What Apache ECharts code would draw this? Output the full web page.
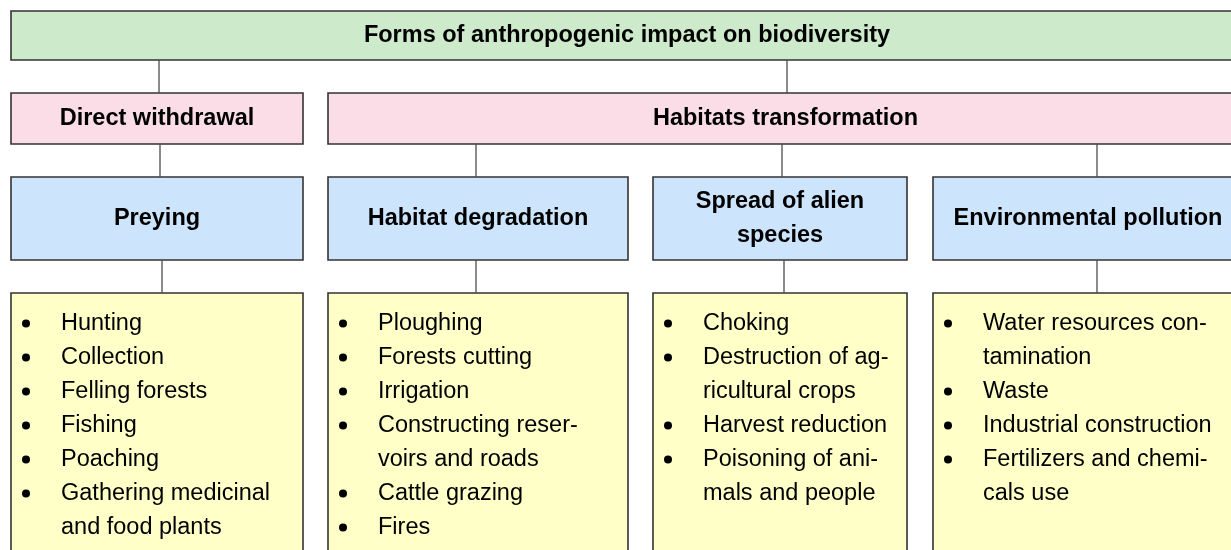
<!DOCTYPE html>
<html>
<head>
<meta charset="utf-8">
<script src="https://cdn.jsdelivr.net/npm/echarts@6/dist/echarts.min.js"></script>
<style>
html,body{margin:0;padding:0;background:#fff;}
#main{width:1231px;height:550px;}
</style>
</head>
<body>
<div id="main"></div>
<script>
// ---- data ----
const title = 'Forms of anthropogenic impact on biodiversity';
const groups = ['Direct withdrawal', 'Habitats transformation'];
const categories = ['Preying', 'Habitat degradation', 'Spread of alien\nspecies', 'Environmental pollution'];
const categoryGroup = [0, 1, 1, 1];
const preyingItems = ['Hunting', 'Collection', 'Felling forests', 'Fishing', 'Poaching', 'Gathering medicinal\nand food plants'];
const degradationItems = ['Ploughing', 'Forests cutting', 'Irrigation', 'Constructing reser-\nvoirs and roads', 'Cattle grazing', 'Fires'];
const alienItems = ['Choking', 'Destruction of ag-\nricultural crops', 'Harvest reduction', 'Poisoning of ani-\nmals and people'];
const pollutionItems = ['Water resources con-\ntamination', 'Waste', 'Industrial construction', 'Fertilizers and chemi-\ncals use'];
const categoryItems = [preyingItems, degradationItems, alienItems, pollutionItems];

// ---- layout (pixel space of the hidden axes) ----
const W = 1231, H = 550;
const L = {
  rowTitle: [11, 60], rowGroup: [93, 144], rowCat: [177, 260], rowList: [293, 565],
  titleSpan: [11, 1243],
  groupSpans: [[11, 303], [328, 1243]],
  cols: [[11, 303], [328, 628], [653, 907], [933, 1243]],
  groupLinks: [159, 787],
  catLinks: [160, 476, 782, 1097],
  listLinks: [162, 476, 784, 1097],
  firstLine: 323.5, lineStep: 34, bulletDx: 15, textDx: 50
};
const C = {
  title: '#cdeacb', group: '#fbdde8', cat: '#cce5fc', list: '#ffffc8',
  border: '#333333', link: '#4d4d4d', text: '#000000'
};
const FONT = '"Liberation Sans", Arial, sans-serif';
const headFont = 'bold 23.5px ' + FONT;
const listFont = '23.5px ' + FONT;

// build nodes from data
const nodes = [];
nodes.push({kind: 'box', x: L.titleSpan, y: L.rowTitle, fill: C.title, text: title, font: headFont});
groups.forEach((g, i) => {
  nodes.push({kind: 'box', x: L.groupSpans[i], y: L.rowGroup, fill: C.group, text: g, font: headFont});
  nodes.push({kind: 'link', x: L.groupLinks[i], y: [L.rowTitle[1], L.rowGroup[0]]});
});
categories.forEach((c, i) => {
  nodes.push({kind: 'box', x: L.cols[i], y: L.rowCat, fill: C.cat, text: c, font: headFont});
  nodes.push({kind: 'link', x: L.catLinks[i], y: [L.rowGroup[1], L.rowCat[0]]});
  nodes.push({kind: 'list', x: L.cols[i], y: L.rowList, fill: C.list, items: categoryItems[i]});
  nodes.push({kind: 'link', x: L.listLinks[i], y: [L.rowCat[1], L.rowList[0]]});
});

function renderItem(params, api) {
  const n = nodes[params.dataIndex];
  if (n.kind === 'link') {
    const p1 = api.coord([n.x, n.y[0]]);
    const p2 = api.coord([n.x, n.y[1]]);
    return {type: 'line', shape: {x1: p1[0], y1: p1[1], x2: p2[0], y2: p2[1]},
      style: {stroke: C.link, lineWidth: 1.3}};
  }
  const tl = api.coord([n.x[0], n.y[0]]);
  const br = api.coord([n.x[1], n.y[1]]);
  const children = [{
    type: 'rect',
    shape: {x: tl[0], y: tl[1], width: br[0] - tl[0], height: br[1] - tl[1]},
    style: {fill: n.fill, stroke: C.border, lineWidth: 1.6}
  }];
  if (n.kind === 'box') {
    children.push({
      type: 'text',
      style: {text: n.text, x: (tl[0] + br[0]) / 2, y: (tl[1] + br[1]) / 2,
        font: n.font, fill: C.text, align: 'center', verticalAlign: 'middle', lineHeight: 34}
    });
  } else {
    let line = 0;
    n.items.forEach(it => {
      const parts = it.split('\n');
      const yy = api.coord([0, L.firstLine + line * L.lineStep])[1];
      const bx = api.coord([n.x[0] + L.bulletDx, 0])[0];
      children.push({type: 'circle', shape: {cx: bx, cy: yy, r: 4}, style: {fill: '#000'}});
      parts.forEach(p => {
        const py = api.coord([0, L.firstLine + line * L.lineStep])[1];
        const tx = api.coord([n.x[0] + L.textDx, 0])[0];
        children.push({type: 'text', style: {text: p, x: tx, y: py, font: listFont, fill: C.text,
          align: 'left', verticalAlign: 'middle'}});
        line++;
      });
    });
  }
  return {type: 'group', children: children};
}

const chart = echarts.init(document.getElementById('main'));
chart.setOption({
  animation: false,
  grid: {left: 0, right: 0, top: 0, bottom: 0},
  xAxis: {type: 'value', min: 0, max: W, show: false},
  yAxis: {type: 'value', min: 0, max: H, inverse: true, show: false},
  series: [{
    type: 'custom',
    coordinateSystem: 'cartesian2d',
    clip: false,
    silent: true,
    renderItem: renderItem,
    data: nodes.map((n, i) => [i])
  }]
});
</script>
</body>
</html>
